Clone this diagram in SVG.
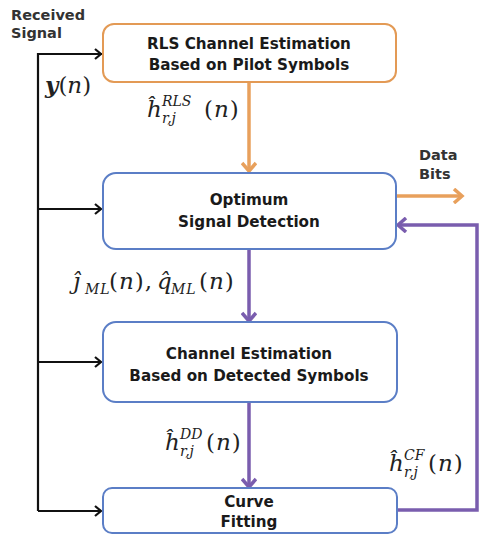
<svg xmlns="http://www.w3.org/2000/svg" width="484" height="543" viewBox="0 0 484 543">
<style>
.box{fill:#fff;stroke-width:2}
.lbl{font-family:"DejaVu Sans",sans-serif;font-weight:bold;font-size:15.2px;fill:#1a1a1a;text-anchor:middle}
.side{font-family:"DejaVu Sans",sans-serif;font-weight:bold;font-size:14.5px;fill:#333}
.m{font-family:"DejaVu Serif","Liberation Serif",serif;font-style:italic;font-size:23px;fill:#222}
.mr{font-family:"DejaVu Serif","Liberation Serif",serif;font-size:23px;fill:#222}
.s{font-family:"DejaVu Serif","Liberation Serif",serif;font-style:italic;font-size:14px;fill:#222}
.blk{stroke:#111;stroke-width:2.2;fill:none}
.org{stroke:#E8A05C;stroke-width:3.5;fill:none}
.pur{stroke:#7A5DAE;stroke-width:3.5;fill:none}
</style>
<defs>
<marker id="ab" markerWidth="12" markerHeight="12" refX="9" refY="6" orient="auto" markerUnits="userSpaceOnUse"><path d="M3,1 L9,6 L3,11" fill="none" stroke="#111" stroke-width="2.2"/></marker>
<marker id="ao" markerWidth="16" markerHeight="16" refX="12" refY="8" orient="auto" markerUnits="userSpaceOnUse"><path d="M4,1 L12,8 L4,15" fill="none" stroke="#E8A05C" stroke-width="3.5"/></marker>
<marker id="ap" markerWidth="16" markerHeight="16" refX="12" refY="8" orient="auto" markerUnits="userSpaceOnUse"><path d="M4,1 L12,8 L4,15" fill="none" stroke="#7A5DAE" stroke-width="3.5"/></marker>
</defs>
<g id="connectors">
<polyline class="blk" points="102,54 38,54 38,511"/>
<line class="blk" x1="38" y1="54" x2="101" y2="54" marker-end="url(#ab)"/>
<line class="blk" x1="38" y1="209" x2="101" y2="209" marker-end="url(#ab)"/>
<line class="blk" x1="38" y1="362" x2="101" y2="362" marker-end="url(#ab)"/>
<line class="blk" x1="38" y1="511" x2="101" y2="511" marker-end="url(#ab)"/>
<line class="org" x1="249" y1="82" x2="249" y2="171" marker-end="url(#ao)"/>
<line class="org" x1="396" y1="196" x2="462" y2="196" marker-end="url(#ao)"/>
<line class="pur" x1="249" y1="249" x2="249" y2="321" marker-end="url(#ap)"/>
<line class="pur" x1="249" y1="402" x2="249" y2="487" marker-end="url(#ap)"/>
<polyline class="pur" points="397,510 477,510 477,225 398,225" marker-end="url(#ap)"/>
</g>
<g id="received-signal">
<text class="side" x="11" y="20">Received</text>
<text class="side" x="11" y="38">Signal</text>
<text x="45" y="93"><tspan class="m" font-weight="bold" font-size="25px">y</tspan><tspan class="mr" font-size="25px">(</tspan><tspan class="m" font-size="25px">n</tspan><tspan class="mr" font-size="25px">)</tspan></text>
</g>
<g id="rls">
<rect class="box" x="103" y="24" width="293" height="58" rx="11" stroke="#E39A55"/>
<text class="lbl" x="249" y="49">RLS Channel Estimation</text>
<text class="lbl" x="249" y="70">Based on Pilot Symbols</text>
</g>
<g id="detect">
<rect class="box" x="103" y="173" width="293" height="76" rx="13" stroke="#5B7EC6"/>
<text class="lbl" x="249" y="205">Optimum</text>
<text class="lbl" x="249" y="227">Signal Detection</text>
</g>
<g id="ce-dd">
<rect class="box" x="103" y="322" width="294" height="80" rx="13" stroke="#5B7EC6"/>
<text class="lbl" x="249" y="359">Channel Estimation</text>
<text class="lbl" x="249" y="381">Based on Detected Symbols</text>
</g>
<g id="curve">
<rect class="box" x="103" y="488" width="294" height="45" rx="9" stroke="#5B7EC6"/>
<text class="lbl" x="249" y="507">Curve</text>
<text class="lbl" x="249" y="527">Fitting</text>
</g>
<g id="data-bits">
<text class="side" x="419" y="160">Data</text>
<text class="side" x="419" y="179">Bits</text>
</g>
<g id="math-labels">
<text class="m" x="147" y="117">ĥ</text>
<text class="s" x="162" y="106">RLS</text>
<text class="s" x="162" y="123">r,j</text>
<text x="204" y="117" letter-spacing="1"><tspan class="mr">(</tspan><tspan class="m">n</tspan><tspan class="mr">)</tspan></text>

<text class="m" x="73" y="289">ĵ</text>
<text class="s" x="85" y="294" letter-spacing="1">ML</text>
<text x="109" y="289" letter-spacing="1"><tspan class="mr">(</tspan><tspan class="m">n</tspan><tspan class="mr">),</tspan></text>
<text class="m" x="157" y="289">q̂</text>
<text class="s" x="171" y="294" letter-spacing="1">ML</text>
<text x="199" y="289" letter-spacing="1"><tspan class="mr">(</tspan><tspan class="m">n</tspan><tspan class="mr">)</tspan></text>

<text class="m" x="165" y="450">ĥ</text>
<text class="s" x="180" y="439">DD</text>
<text class="s" x="180" y="456">r,j</text>
<text x="206" y="450" letter-spacing="1"><tspan class="mr">(</tspan><tspan class="m">n</tspan><tspan class="mr">)</tspan></text>

<text class="m" x="389" y="471">ĥ</text>
<text class="s" x="404" y="460">CF</text>
<text class="s" x="404" y="477">r,j</text>
<text x="428" y="471" letter-spacing="1"><tspan class="mr">(</tspan><tspan class="m">n</tspan><tspan class="mr">)</tspan></text>
</g>
</svg>
